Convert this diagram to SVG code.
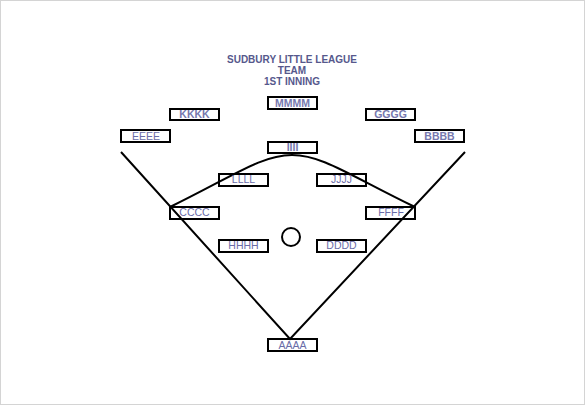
<svg xmlns="http://www.w3.org/2000/svg" width="585" height="405" viewBox="0 0 585 405">
<style>
.box{fill:none;stroke:#000;stroke-width:2}
.ln{fill:none;stroke:#000;stroke-width:2}
.t{font-family:"Liberation Sans",Arial,sans-serif;font-size:10.5px;text-anchor:middle}
.title{font-size:10px;font-weight:bold;fill:#56588c}
.of{font-weight:bold;fill:#7678ae}
.inf{fill:#6a6ca8}
</style>
<rect x="0.5" y="0.5" width="584" height="404" fill="#fff" stroke="#d4d4d4"/>
<g id="title" class="t title">
<text x="292" y="62.5">SUDBURY LITTLE LEAGUE</text>
<text x="292" y="73.5">TEAM</text>
<text x="292" y="84.5">1ST INNING</text>
</g>
<g id="connectors">
<path class="ln" d="M121,152 L290,339 L465,152"/>
<path class="ln" d="M170,207 C235,175 262,155 292,155 C322,155 349,175 415,207"/>
<circle class="ln" cx="291" cy="237" r="9"/>
</g>
<g id="MMMM"><rect class="box" x="268" y="97" width="49" height="12"/><text class="t of" x="292.5" y="107">MMMM</text></g>
<g id="KKKK"><rect class="box" x="170" y="109" width="49" height="11"/><text class="t of" x="194.5" y="118">KKKK</text></g>
<g id="GGGG"><rect class="box" x="366" y="109" width="49" height="11"/><text class="t of" x="390.5" y="118">GGGG</text></g>
<g id="EEEE"><rect class="box" x="121" y="130" width="49" height="12"/><text class="t inf" x="146" y="139.5">EEEE</text></g>
<g id="BBBB"><rect class="box" x="415" y="130" width="49" height="12"/><text class="t of" x="439.5" y="139.5">BBBB</text></g>
<g id="IIII"><rect class="box" x="268" y="142" width="49" height="11"/><text class="t of" x="292.5" y="150.5">IIII</text></g>
<g id="LLLL"><rect class="box" x="219" y="174" width="49" height="12"/><text class="t inf" x="243.5" y="183">LLLL</text></g>
<g id="JJJJ"><rect class="box" x="317" y="174" width="49" height="12"/><text class="t inf" x="341.5" y="183">JJJJ</text></g>
<g id="CCCC"><rect class="box" x="170" y="207" width="49" height="12"/><text class="t inf" x="194.5" y="216">CCCC</text></g>
<g id="FFFF"><rect class="box" x="366" y="207" width="49" height="12"/><text class="t inf" x="391" y="216">FFFF</text></g>
<g id="HHHH"><rect class="box" x="219" y="240" width="49" height="12"/><text class="t inf" x="243.5" y="249">HHHH</text></g>
<g id="DDDD"><rect class="box" x="317" y="240" width="49" height="12"/><text class="t inf" x="341.5" y="249">DDDD</text></g>
<g id="AAAA"><rect class="box" x="268" y="339" width="49" height="12"/><text class="t inf" x="292.5" y="348.5">AAAA</text></g>
</svg>
